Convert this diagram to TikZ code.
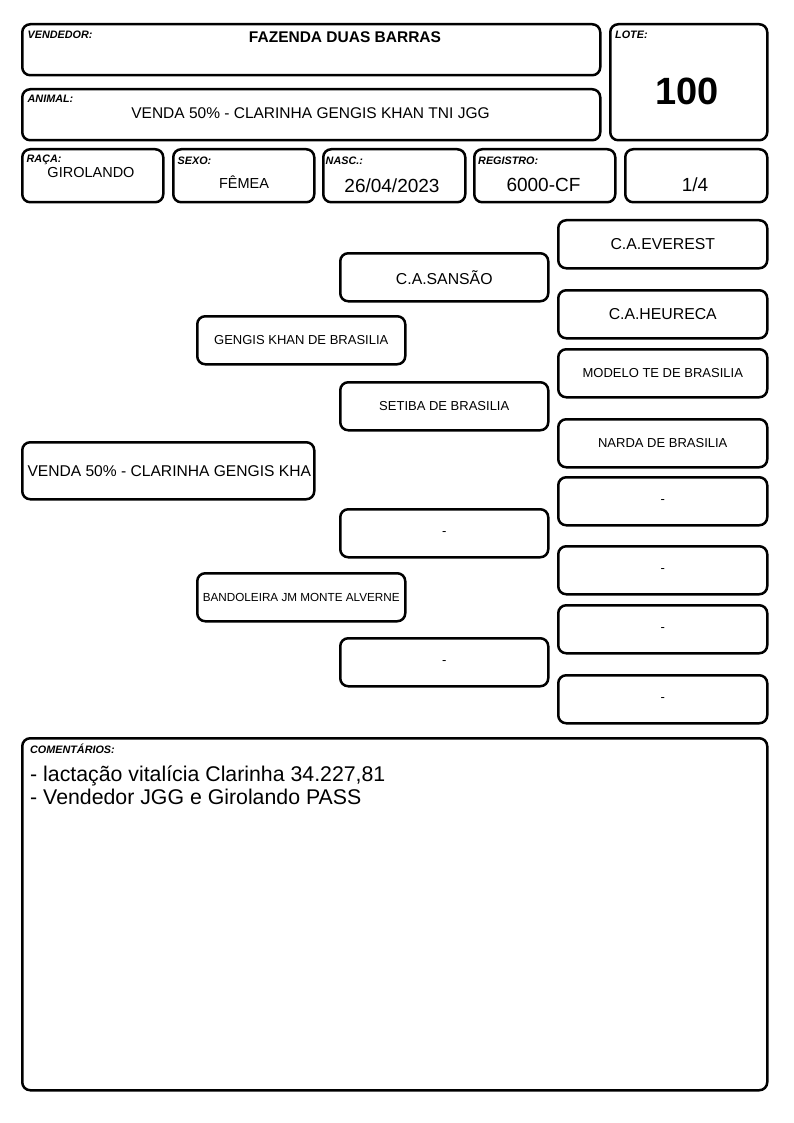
\documentclass[tikz,border=0pt]{standalone}
\usepackage{fontspec}
\setmainfont{Liberation Sans}
\newcommand{\myfs}[1]{\fontsize{#1}{#1}\selectfont}
\tikzset{
  box/.style={draw=black, line width=2.5pt, rounded corners=8pt, anchor=north west, inner sep=0pt, align=center},
  lbl/.style={anchor=base west, inner sep=0pt, font=\myfs{10.8}\bfseries\itshape},
  val/.style={anchor=base, inner sep=0pt},
  pa/.style={box, minimum width=208pt, minimum height=48pt},
  pb/.style={box, minimum width=208pt, minimum height=48pt},
  pc/.style={box, minimum width=209pt, minimum height=48pt},
  big/.style={font=\myfs{15.8}},
  small/.style={font=\myfs{13}},
}
\begin{document}
\begin{tikzpicture}[x=1pt,y=-1pt]
\useasboundingbox (0,0) rectangle (794,1123);
% header boxes
\node[box, minimum width=578pt, minimum height=51pt] (vend) at (21,23) {};
\node[box, minimum width=578pt, minimum height=51pt] (anim) at (21,88) {};
\node[box, minimum width=157pt, minimum height=116pt] (lote) at (609,23) {};
\node[box, minimum width=141pt, minimum height=53pt] (raca) at (21,148) {};
\node[box, minimum width=141pt, minimum height=53pt] (sexo) at (172,148) {};
\node[box, minimum width=142pt, minimum height=53pt] (nasc) at (322,148) {};
\node[box, minimum width=141pt, minimum height=53pt] (reg) at (473,148) {};
\node[box, minimum width=142pt, minimum height=53pt] (frac) at (624,148) {};
% labels
\node[lbl] (lvend) at (27.5,39) {VENDEDOR:};
\node[lbl] (lanim) at (27.5,103) {ANIMAL:};
\node[lbl] (llote) at (615,39) {LOTE:};
\node[lbl] (lraca) at (26.5,163) {RAÇA:};
\node[lbl] (lsexo) at (177.5,165) {SEXO:};
\node[lbl] (lnasc) at (325.5,165) {NASC.:};
\node[lbl] (lreg) at (478,165) {REGISTRO:};
% values
\node[val, font=\myfs{15.5}\bfseries] (tvend) at (345,43) {FAZENDA DUAS BARRAS};
\node[val, font=\myfs{15.5}] (tanim) at (310.5,119) {VENDA 50\% - CLARINHA GENGIS KHAN TNI JGG};
\node[val, font=\myfs{38}\bfseries] (tlote) at (687,105) {100};
\node[val, font=\myfs{14.5}] (traca) at (91,178) {GIROLANDO};
\node[val, font=\myfs{14.5}] (tsexo) at (244,189) {FÊMEA};
\node[val, font=\myfs{19}] (tnasc) at (392,193) {26/04/2023};
\node[val, font=\myfs{19}] (treg) at (543.5,192) {6000-CF};
\node[val, font=\myfs{19}] (tfrac) at (695,192) {1/4};
% pedigree
\node[box, minimum width=292pt, minimum height=57pt] (main) at (21,441) {};
\node[anchor=base west, inner sep=0pt, font=\myfs{15.6}] (tmain) at (27.3,476.5) {VENDA 50\% - CLARINHA GENGIS KHA};
\node[pa, small] (sire) at (196,315) {GENGIS KHAN DE BRASILIA};
\node[pa, font=\myfs{11.7}] (dam) at (196,572) {BANDOLEIRA JM MONTE ALVERNE};
\node[pb, big] (ss) at (339,252) {C.A.SANSÃO};
\node[pb, small] (sd) at (339,381) {SETIBA DE BRASILIA};
\node[pb, small] (ds) at (339,508) {-};
\node[pb, small] (dd) at (339,637) {-};
\node[pc, big] (sss) at (557,219) {C.A.EVEREST};
\node[pc, big] (ssd) at (557,289) {C.A.HEURECA};
\node[pc, small] (sds) at (557,348) {MODELO TE DE BRASILIA};
\node[pc, small] (sdd) at (557,418) {NARDA DE BRASILIA};
\node[pc, small] (dss) at (557,476) {-};
\node[pc, small] (dsd) at (557,545) {-};
\node[pc, small] (dds) at (557,604) {-};
\node[pc, small] (ddd) at (557,674) {-};
% comments
\node[box, minimum width=745pt, minimum height=352pt] (com) at (21,737) {};
\node[lbl] (lcom) at (30,753) {COMENTÁRIOS:};
\node[anchor=base west, inner sep=0pt, font=\myfs{21.3}] (c1) at (30,781) {- lactação vitalícia Clarinha 34.227,81};
\node[anchor=base west, inner sep=0pt, font=\myfs{21.3}] (c2) at (30,804.5) {- Vendedor JGG e Girolando PASS};
\end{tikzpicture}
\end{document}
